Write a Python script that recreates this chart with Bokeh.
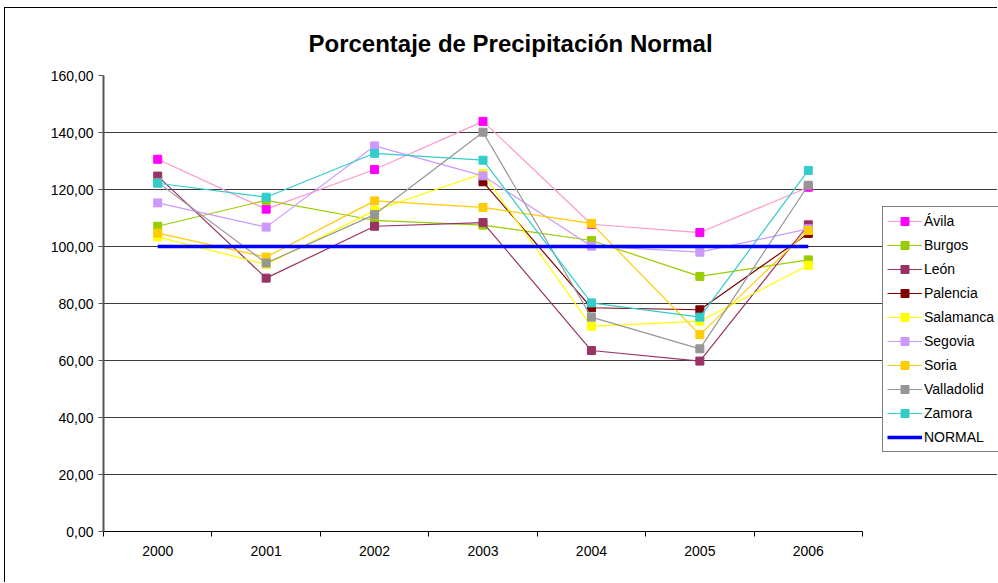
import math
from bokeh.plotting import figure
from bokeh.models import (FixedTicker, CustomJSTickFormatter, Legend, LegendItem,
                          Grid, ColumnDataSource, Range1d)
from bokeh.embed import file_html
from bokeh.resources import INLINE

years = ["2000", "2001", "2002", "2003", "2004", "2005", "2006"]
nan = float("nan")

avila = [130.6, 113.1, 127.0, 143.9, 107.8, 104.9, 120.8]
burgos = [107.1, 116.2, 109.2, 107.5, 102.1, 89.5, 95.3]
leon = [124.7, 88.9, 107.1, 108.4, 63.5, 59.8, 107.6]
palencia = [nan, nan, nan, 122.7, 78.5, 77.8, 104.6]
salamanca = [103.4, 93.7, 112.6, 125.6, 72.0, 73.8, 93.4]
segovia = [115.3, 106.8, 135.3, 124.8, 100.1, 98.0, 106.2]
soria = [104.7, 96.3, 116.0, 113.7, 108.1, 69.1, 105.6]
valladolid = [122.5, 94.2, 111.2, 140.1, 75.2, 64.1, 121.5]
zamora = [122.2, 117.3, 132.7, 130.3, 80.2, 75.2, 126.7]
normal = [100, 100, 100, 100, 100, 100, 100]

y_ticks = [0, 20, 40, 60, 80, 100, 120, 140, 160]

series = [
    ("Ávila", avila, "#FF99CC", "#FF00FF"),
    ("Burgos", burgos, "#99CC00", "#99CC00"),
    ("León", leon, "#993366", "#993366"),
    ("Palencia", palencia, "#800000", "#800000"),
    ("Salamanca", salamanca, "#FFFF00", "#FFFF00"),
    ("Segovia", segovia, "#CC99FF", "#CC99FF"),
    ("Soria", soria, "#FFCC00", "#FFCC00"),
    ("Valladolid", valladolid, "#969696", "#969696"),
    ("Zamora", zamora, "#33CCCC", "#33CCCC"),
]

FONT = "Liberation Sans"

n = len(years)
xpos = [i + 0.5 for i in range(n)]

# plot area: categories occupy 759px of a 895px-wide frame; the rest holds the legend
x_end = n * 895 / 759

p = figure(width=993, height=575, output_backend="svg", toolbar_location=None,
           x_range=Range1d(0, x_end), y_range=Range1d(0, 160),
           min_border_left=98, min_border_right=0, min_border_top=67,
           min_border_bottom=52)
p.styles = {"border-left": "1px solid #000000", "border-top": "1px solid #000000",
            "margin-left": "4px", "margin-top": "7px"}

p.title.text = "Porcentaje de Precipitación Normal"
p.title.align = "left"
p.title.text_font = FONT
p.title.text_font_size = "24px"
p.title.text_font_style = "bold"
p.title.text_color = "#000000"
p.title.offset = 205
p.title.standoff = 38
p.outline_line_color = None
p.background_fill_color = "white"
p.border_fill_color = "white"

# axes
p.xaxis.bounds = (0, n)
p.xaxis.ticker = FixedTicker(ticks=xpos, minor_ticks=list(range(n + 1)))
p.xaxis.major_label_overrides = {x: y for x, y in zip(xpos, years)}
p.xaxis.major_tick_line_color = None
p.xaxis.major_tick_out = 0
p.xaxis.minor_tick_out = 5
p.xaxis.minor_tick_in = 0
p.xaxis.minor_tick_line_color = "#000000"
p.xaxis.axis_line_color = "#000000"
p.xaxis.major_label_text_font = FONT
p.xaxis.major_label_text_font_size = "14px"
p.xaxis.major_label_text_color = "#000000"
p.xaxis.major_label_standoff = 9

p.yaxis.ticker = FixedTicker(ticks=y_ticks, minor_ticks=[])
p.yaxis.formatter = CustomJSTickFormatter(code="return tick.toFixed(2).replace('.', ',');")
p.yaxis.major_tick_out = 5
p.yaxis.major_tick_in = 0
p.yaxis.minor_tick_line_color = None
p.yaxis.axis_line_color = "#555555"
p.yaxis.axis_line_width = 2
p.yaxis.major_tick_line_color = "#555555"
p.yaxis.major_label_text_font = FONT
p.yaxis.major_label_text_font_size = "14px"
p.yaxis.major_label_text_color = "#000000"
p.yaxis.major_label_standoff = 5

p.xgrid.grid_line_color = None
p.ygrid.ticker = FixedTicker(ticks=y_ticks[1:-1])
p.ygrid.bounds = (0, n)
p.ygrid.grid_line_color = "#3a3a3a"
p.ygrid.grid_line_width = 1.2
top_grid = Grid(dimension=1, ticker=FixedTicker(ticks=y_ticks[-1:]), bounds=(0, n),
                grid_line_color="#dddddd", grid_line_width=1.5)
p.add_layout(top_grid)

items = []
for name, vals, lc, mc in series:
    src = ColumnDataSource(dict(x=xpos, y=vals))
    r1 = p.line("x", "y", source=src, line_color=lc, line_width=1.2)
    r2 = p.scatter("x", "y", source=src, marker="square", size=8,
                   fill_color=mc, line_color=mc)
    items.append(LegendItem(label=name, renderers=[r1, r2]))

rn = p.line(xpos, normal, line_color="#0000FF", line_width=3.5)
items.append(LegendItem(label="NORMAL", renderers=[rn]))

legend = Legend(items=items, location=(779, 79), orientation="vertical")
legend.border_line_color = "#000000"
legend.border_line_width = 1
legend.background_fill_alpha = 1
legend.label_text_font = FONT
legend.label_text_font_size = "14px"
legend.label_text_color = "#000000"
legend.glyph_width = 35
legend.glyph_height = 20
legend.label_height = 20
legend.spacing = 4
legend.padding = 4
legend.margin = 0
legend.label_standoff = 2
p.add_layout(legend, "center")

open("out.html", "w").write(file_html(p, INLINE))
